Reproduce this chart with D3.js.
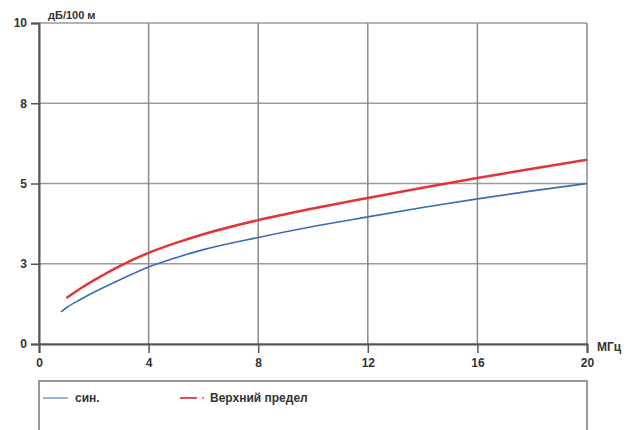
<!DOCTYPE html>
<html>
<head>
<meta charset="utf-8">
<script src="https://cdn.jsdelivr.net/npm/d3@7"></script>
<style>
  body { margin: 0; background: #fff; }
  text { font-family: Arial, "Liberation Sans", sans-serif; font-weight: bold; fill: #333; }
</style>
</head>
<body>
<script>
const WIDTH = 628;
const HEIGHT = 430;
const LEFT = 39, RIGHT = 587, TOP = 23, BOTTOM = 344;

// frequency (MHz) and attenuation (dB/100 m)
var blueFreq = [0.8, 1, 1.5, 2, 3, 4, 5, 6, 8, 10, 12, 14, 16, 18, 20];
var blueValues = [1.0, 1.13, 1.38, 1.61, 2.02, 2.4, 2.69, 2.94, 3.32, 3.66, 3.96, 4.25, 4.52, 4.77, 5.0];
var redFreq = [1, 1.5, 2, 3, 4, 5, 6, 8, 10, 12, 14, 16, 18, 20];
var redValues = [1.43, 1.72, 1.98, 2.45, 2.84, 3.15, 3.42, 3.86, 4.22, 4.55, 4.87, 5.17, 5.46, 5.74];

var xTicks = [0, 4, 8, 12, 16, 20];
var yTicks = [0, 2.5, 5, 7.5, 10];
var yTickLabels = ['0', '3', '5', '8', '10'];

var series = [
    {name: 'син.', freq: blueFreq, values: blueValues, color: '#3b6db5', width: 1.6, swatch: '#9db4dd'},
    {name: 'Верхний предел', freq: redFreq, values: redValues, color: '#e3343c', width: 2.5, swatch: '#e0505a'}
];

var drawChart = function() {
    var svg = d3.select('body').append('svg')
        .attr('width', WIDTH)
        .attr('height', HEIGHT);

    var xScale = d3.scaleLinear().domain([0, 20]).range([LEFT, RIGHT]);
    var yScale = d3.scaleLinear().domain([0, 10]).range([BOTTOM, TOP]);

    // grid
    svg.append('g').selectAll('line')
        .data(yTicks)
        .enter()
        .append('line')
        .attr('x1', LEFT).attr('x2', RIGHT)
        .attr('y1', function(d) { return yScale(d); })
        .attr('y2', function(d) { return yScale(d); })
        .attr('stroke', '#9a9a9a')
        .attr('stroke-width', 1.5);

    svg.append('g').selectAll('line')
        .data(xTicks)
        .enter()
        .append('line')
        .attr('y1', TOP).attr('y2', BOTTOM)
        .attr('x1', function(d) { return xScale(d); })
        .attr('x2', function(d) { return xScale(d); })
        .attr('stroke', '#8a8a8a')
        .attr('stroke-width', 1.5);

    // axes
    var yAxis = svg.append('g')
        .attr('transform', 'translate(' + LEFT + ',0)')
        .call(d3.axisLeft(yScale)
            .tickValues(yTicks)
            .tickFormat(function(d, i) { return yTickLabels[i]; })
            .tickSize(8)
            .tickPadding(4));

    var xAxis = svg.append('g')
        .attr('transform', 'translate(0,' + BOTTOM + ')')
        .call(d3.axisBottom(xScale)
            .tickValues(xTicks)
            .tickSize(9)
            .tickPadding(5));

    [xAxis, yAxis].forEach(function(ax) {
        ax.select('.domain').attr('stroke', '#555').attr('stroke-width', 2);
        ax.selectAll('.tick line').attr('stroke', '#555').attr('stroke-width', 1.5);
        ax.selectAll('.tick text')
            .attr('fill', '#333')
            .style('font-size', '12px')
            .style('font-weight', 'bold')
            .style('font-family', 'Arial, "Liberation Sans", sans-serif');
    });

    svg.append('text')
        .attr('x', 48).attr('y', 19)
        .style('font-size', '11px')
        .text('дБ/100 м');

    svg.append('text')
        .attr('x', 597).attr('y', 351)
        .style('font-size', '12px')
        .text('МГц');

    // curves
    var line = d3.line()
        .x(function(d) { return xScale(d[0]); })
        .y(function(d) { return yScale(d[1]); })
        .curve(d3.curveMonotoneX);

    series.forEach(function(s) {
        svg.append('path')
            .datum(d3.zip(s.freq, s.values))
            .attr('d', line)
            .attr('fill', 'none')
            .attr('stroke', s.color)
            .attr('stroke-width', s.width);
    });

    // legend
    svg.append('rect')
        .attr('x', LEFT).attr('y', 381)
        .attr('width', RIGHT - LEFT).attr('height', 80)
        .attr('fill', 'none')
        .attr('stroke', '#777')
        .attr('stroke-width', 1.5);

    var legendX = [43, 180];
    series.forEach(function(s, i) {
        var g = svg.append('g').attr('transform', 'translate(' + legendX[i] + ',398)');
        g.append('line')
            .attr('x1', 0).attr('x2', i == 0 ? 25 : 17)
            .attr('stroke', s.swatch).attr('stroke-width', 2);
        if (i == 1) {
            g.append('line').attr('x1', 22).attr('x2', 24)
                .attr('stroke', s.swatch).attr('stroke-width', 1.5);
        }
        g.append('text')
            .attr('x', i == 0 ? 32 : 30).attr('y', 4)
            .style('font-size', '12px')
            .text(s.name);
    });
};

window.onload = function() {
    drawChart();
};
</script>
</body>
</html>
